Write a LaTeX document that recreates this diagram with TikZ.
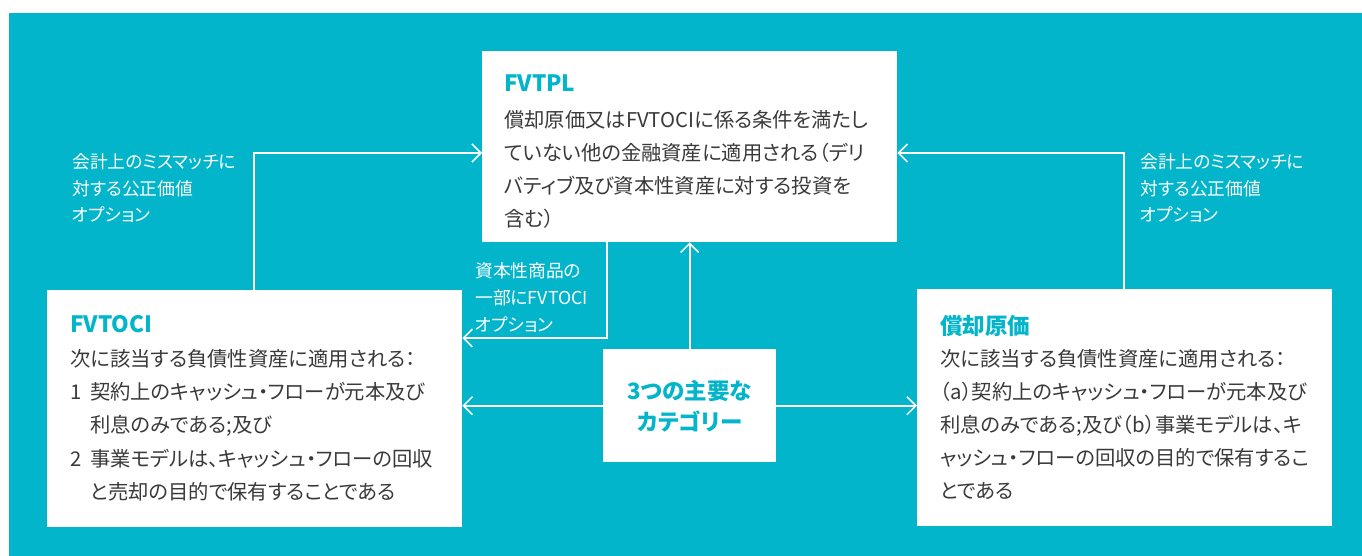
\documentclass[tikz,border=0pt]{standalone}
\usepackage{fontspec}
\setmainfont{Noto Sans CJK JP}[RawFeature=+palt]
\usetikzlibrary{arrows.meta,calc}
\definecolor{ctteal}{HTML}{02B5CA}
\definecolor{ctgray}{HTML}{3A3A3A}
\begin{document}
\begin{tikzpicture}[x=1pt,y=-1pt,
  box/.style={fill=white, draw=none, inner sep=0pt, anchor=north west},
  conn/.style={draw=white, line width=1.6pt, -{Straight Barb[length=9pt,width=18pt,line width=1.5pt]}},
  ttl/.style={anchor=base west, inner sep=0pt, text=ctteal, font=\fontsize{22.5}{26}\selectfont\bfseries},
  body/.style={anchor=base west, inner sep=0pt, align=left, text=ctgray, font=\fontsize{20.3}{33.4}\selectfont},
  lbl/.style={anchor=base west, inner sep=0pt, align=left, text=white, font=\fontsize{17.8}{26.5}\selectfont}]
\useasboundingbox (0,0) rectangle (1362,556);
\fill[white] (0,0) rectangle (1362,556);
\fill[ctteal] (9,13) rectangle (1362,556);
% boxes
\node[box, minimum width=415pt, minimum height=191pt] (pl) at (482,51) {};
\node[box, minimum width=415pt, minimum height=237pt] (oci) at (47,290) {};
\node[box, minimum width=415pt, minimum height=237pt] (ac) at (917,289) {};
\node[box, minimum width=173pt, minimum height=113pt] (ctr) at (603,349) {};
% connectors
\draw[conn] ($(oci.north west)+(207,0)$) |- ($(pl.north west)+(0,102)$);
\draw[conn] ($(ac.north west)+(207,0)$) |- ($(pl.north east)+(0,102)$);
\draw[conn] (ctr.north) -- (ctr.north |- pl.south);
\draw[conn] ($(pl.south west)+(125,0)$) |- ($(oci.north east)+(0,48)$);
\draw[conn] (ctr.west) -- (ctr.west -| oci.east);
\draw[conn] (ctr.east) -- (ctr.east -| ac.west);
% texts (base anchor = baseline of the last line)
\node[ttl] (plt) at (504,92) {FVTPL};
\node[body, font=\fontsize{20.3}{33}\selectfont] (plb) at (504,226) {償却原価又はFVTOCIに係る条件を満たし\\ていない他の金融資産に適用される（デリ\\バティブ及び資本性資産に対する投資を\\含む）};
\node[ttl] (ocit) at (70,332) {FVTOCI};
\node[body] (ocib) at (70,499.6) {次に該当する負債性資産に適用される：\\\makebox[20pt][l]{1}契約上のキャッシュ・フローが元本及び\\\hspace*{20pt}利息のみである;及び\\\makebox[20pt][l]{2}事業モデルは、キャッシュ・フローの回収\\\hspace*{20pt}と売却の目的で保有することである};
\node[ttl] (act) at (940,334) {償却原価};
\node[body, font=\fontsize{20.3}{33}\selectfont] (acb) at (940,498) {次に該当する負債性資産に適用される：\\（a）契約上のキャッシュ・フローが元本及び\\利息のみである;及び（b）事業モデルは、キ\\ャッシュ・フローの回収の目的で保有するこ\\とである};
\node[align=center, inner sep=0pt, text=ctteal, font=\fontsize{22.5}{31}\selectfont\bfseries] (ctrt) at (ctr.center) {3つの主要な\\カテゴリー};
\node[lbl] (l1) at (72,222) {会計上のミスマッチに\\対する公正価値\\オプション};
\node[lbl] (l2) at (1140,222) {会計上のミスマッチに\\対する公正価値\\オプション};
\node[lbl, font=\fontsize{17.8}{27}\selectfont] (l3) at (475,331) {資本性商品の\\一部にFVTOCI\\オプション};
\end{tikzpicture}
\end{document}
